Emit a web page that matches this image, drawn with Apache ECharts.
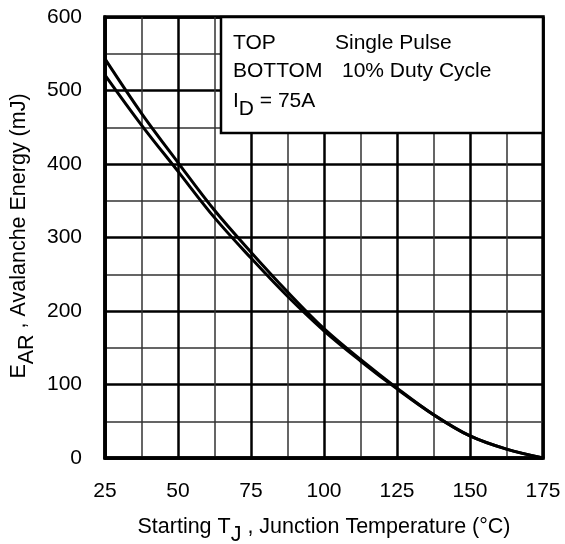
<!DOCTYPE html>
<html>
<head>
<meta charset="utf-8">
<script src="https://cdn.jsdelivr.net/npm/echarts@6/dist/echarts.min.js"></script>
<style>
  html, body { margin: 0; padding: 0; background: #fff; }
  #chart { width: 565px; height: 544px; }
</style>
</head>
<body>
<div id="chart"></div>
<script>
// Starting junction temperature (°C)
const temps = [25, 37.5, 50, 62.5, 75, 87.5, 100, 112.5, 125, 137.5, 150, 162.5, 175];
// Avalanche energy (mJ), single pulse (upper curve)
const singlePulse = [543, 469, 402, 337, 280, 226, 176, 134, 95, 59, 30, 12, 0];
// Avalanche energy (mJ), 10% duty cycle (lower curve)
const dutyCycle10 = [521, 453, 390, 327, 272, 220, 173, 132, 94, 59, 30, 12, 0];

// Axis tick labels
const xTicks = [25, 50, 75, 100, 125, 150, 175];
const yTicks = [0, 100, 200, 300, 400, 500, 600];

// Legend box rows
const legendRows = [
  ['TOP', 'Single Pulse'],
  ['BOTTOM', '10% Duty Cycle']
];
const currentLabel = ['I', 'D', ' = 75A'];

const FONT = 'Liberation Sans, Arial, Helvetica, sans-serif';
const TEXT_SIZE = 21;

const chart = echarts.init(document.getElementById('chart'), null, { renderer: 'canvas' });

const gridL = 105, gridR = 22, gridT = 17, gridB = 86;
const plotRight = 565 - gridR;

function curve(name, values) {
  return {
    name: name,
    type: 'line',
    data: temps.map((t, i) => [t, values[i]]),
    smooth: 0.35,
    showSymbol: false,
    symbol: 'none',
    lineStyle: { color: '#000', width: 3 },
    z: 5
  };
}

const legendGraphics = [];
legendGraphics.push({
  type: 'rect',
  z: 20,
  shape: { x: 221, y: gridT, width: plotRight - 221, height: 116 },
  style: { fill: '#fff', stroke: '#000', lineWidth: 2.5 }
});
legendRows.forEach((row, i) => {
  legendGraphics.push({
    type: 'text', z: 21, x: 233, y: 43 + i * 28,
    style: { text: row[0], fontSize: TEXT_SIZE, fontFamily: FONT, fill: '#000', verticalAlign: 'middle' }
  });
  legendGraphics.push({
    type: 'text', z: 21, x: i === 0 ? 335 : 342, y: 43 + i * 28,
    style: { text: row[1], fontSize: TEXT_SIZE, fontFamily: FONT, fill: '#000', verticalAlign: 'middle' }
  });
});
legendGraphics.push({
  type: 'text', z: 21, x: 233, y: 101,
  style: {
    text: '{n|' + currentLabel[0] + '}{s|' + currentLabel[1] + '}{n|' + currentLabel[2] + '}',
    fontFamily: FONT, fill: '#000', verticalAlign: 'middle',
    rich: {
      n: { fontSize: TEXT_SIZE, fontFamily: FONT, fill: '#000' },
      s: { fontSize: TEXT_SIZE, fontFamily: FONT, fill: '#000', padding: [16, 0, 0, 0] }
    }
  }
});

// Axis titles with subscripts
const titleGraphics = [
  {
    type: 'text', z: 21, x: (gridL + plotRight) / 2, y: 527,
    style: {
      text: '{n|Starting T}{s|J}{n| , Junction Temperature (°C)}',
      fontFamily: FONT, fill: '#000', align: 'center', verticalAlign: 'middle',
      rich: {
        n: { fontSize: 21.5, fontFamily: FONT, fill: '#000' },
        s: { fontSize: 21.5, fontFamily: FONT, fill: '#000', padding: [16, 0, 0, 0] }
      }
    }
  },
  {
    type: 'text', z: 21, x: 19, y: 236, rotation: Math.PI / 2,
    style: {
      text: '{n|E}{s|AR}{n| , Avalanche Energy (mJ)}',
      fontFamily: FONT, fill: '#000', align: 'center', verticalAlign: 'middle',
      rich: {
        n: { fontSize: 21.5, fontFamily: FONT, fill: '#000' },
        s: { fontSize: 21.5, fontFamily: FONT, fill: '#000', padding: [16, 0, 0, 0] }
      }
    }
  }
];

const option = {
  backgroundColor: '#fff',
  animation: false,
  grid: {
    left: gridL, right: gridR, top: gridT, bottom: gridB,
    show: true, borderColor: '#000', borderWidth: 3.5, backgroundColor: 'transparent',
    containLabel: false
  },
  xAxis: {
    type: 'value',
    min: xTicks[0], max: xTicks[xTicks.length - 1], interval: xTicks[1] - xTicks[0],
    axisLine: { show: true, lineStyle: { color: '#000', width: 3.5 } },
    axisTick: { show: false },
    axisLabel: { color: '#000', fontSize: TEXT_SIZE, fontFamily: FONT, margin: 23 },
    splitLine: { show: true, lineStyle: { color: '#000', width: 2.5 } },
    minorTick: { show: false, splitNumber: 2 },
    minorSplitLine: { show: true, lineStyle: { color: '#333', width: 1.5 } }
  },
  yAxis: {
    type: 'value',
    min: yTicks[0], max: yTicks[yTicks.length - 1], interval: yTicks[1] - yTicks[0],
    axisLine: { show: true, lineStyle: { color: '#000', width: 3.5 } },
    axisTick: { show: false },
    axisLabel: { color: '#000', fontSize: TEXT_SIZE, fontFamily: FONT, margin: 23 },
    splitLine: { show: true, lineStyle: { color: '#000', width: 2.5 } },
    minorTick: { show: false, splitNumber: 2 },
    minorSplitLine: { show: true, lineStyle: { color: '#333', width: 1.5 } }
  },
  series: [
    curve('Single Pulse', singlePulse),
    curve('10% Duty Cycle', dutyCycle10)
  ],
  graphic: legendGraphics.concat(titleGraphics)
};

chart.setOption(option);
</script>
</body>
</html>
